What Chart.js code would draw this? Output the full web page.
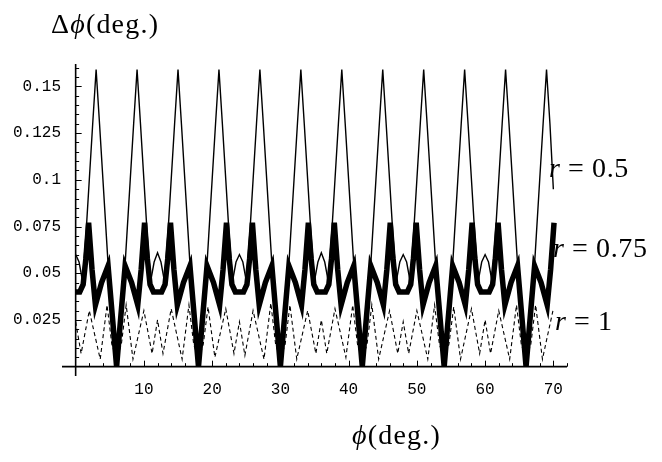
<!DOCTYPE html>
<html>
<head>
<meta charset="utf-8">
<script src="https://cdn.jsdelivr.net/npm/chart.js@4.4.1/dist/chart.umd.min.js"></script>
<style>
html,body{margin:0;padding:0;background:#fff;}
#wrap{width:662px;height:462px;position:relative;}
</style>
</head>
<body>
<div id="wrap"><canvas id="c" width="662" height="462"></canvas></div>
<script>
// ---- data ----
const xTicks = [10, 20, 30, 40, 50, 60, 70];
const yTicks = [0.025, 0.05, 0.075, 0.1, 0.125, 0.15];
const seriesLabels = ["0.5", "0.75", "1"];

const r05X = [0,0.5,1,1.5,2,2.5,3,3.5,4,4.5,5,5.5,6,6.5,7,7.5,8,8.5,9,9.5,10,10.5,11,11.5,
12,12.5,13,13.5,14,14.5,15,15.5,16,16.5,17,17.5,18,18.5,19,19.5,20,20.5,21,21.5,22,22.5,23,23.5,
24,24.5,25,25.5,26,26.5,27,27.5,28,28.5,29,29.5,30,30.5,31,31.5,32,32.5,33,33.5,34,34.5,35,35.5,
36,36.5,37,37.5,38,38.5,39,39.5,40,40.5,41,41.5,42,42.5,43,43.5,44,44.5,45,45.5,46,46.5,47,47.5,
48,48.5,49,49.5,50,50.5,51,51.5,52,52.5,53,53.5,54,54.5,55,55.5,56,56.5,57,57.5,58,58.5,59,59.5,
60,60.5,61,61.5,62,62.5,63,63.5,64,64.5,65,65.5,66,66.5,67,67.5,68,68.5,69,69.5,70];
const r05Y = [0.060,0.056,0.046,0.070,0.100,0.130,0.159,0.130,0.100,0.070,0.040,0.016,0.003,0.016,0.040,0.070,0.100,0.130,0.159,0.130,0.100,0.070,0.046,0.056,
0.061,0.056,0.046,0.070,0.100,0.130,0.159,0.130,0.100,0.070,0.040,0.016,0.003,0.016,0.040,0.070,0.100,0.130,0.159,0.130,0.100,0.070,0.046,0.056,
0.060,0.056,0.046,0.070,0.100,0.130,0.159,0.130,0.100,0.070,0.040,0.016,0.003,0.016,0.040,0.070,0.100,0.130,0.159,0.130,0.100,0.070,0.046,0.056,
0.061,0.056,0.046,0.070,0.100,0.130,0.159,0.130,0.100,0.070,0.040,0.016,0.003,0.016,0.040,0.070,0.100,0.130,0.159,0.130,0.100,0.070,0.046,0.056,
0.060,0.056,0.046,0.070,0.100,0.130,0.159,0.130,0.100,0.070,0.040,0.016,0.003,0.016,0.040,0.070,0.100,0.130,0.159,0.130,0.100,0.070,0.046,0.056,
0.060,0.056,0.046,0.070,0.100,0.130,0.159,0.130,0.100,0.070,0.040,0.016,0.003,0.016,0.040,0.070,0.100,0.130,0.159,0.130,0.095];

const r075X = [0,0.6,1.1,1.5,1.9,2.4,2.9,3.8,4.75,5.4,6,6.6,7.25,8.2,9.1,9.6,10.1,10.5,10.9,11.4,
12,12.6,13.1,13.5,13.9,14.4,14.9,15.8,16.75,17.4,18,18.6,19.25,20.2,21.1,21.6,22.1,22.5,22.9,23.4,
24,24.6,25.1,25.5,25.9,26.4,26.9,27.8,28.75,29.4,30,30.6,31.25,32.2,33.1,33.6,34.1,34.5,34.9,35.4,
36,36.6,37.1,37.5,37.9,38.4,38.9,39.8,40.75,41.4,42,42.6,43.25,44.2,45.1,45.6,46.1,46.5,46.9,47.4,
48,48.6,49.1,49.5,49.9,50.4,50.9,51.8,52.75,53.4,54,54.6,55.25,56.2,57.1,57.6,58.1,58.5,58.9,59.4,
60,60.6,61.1,61.5,61.9,62.4,62.9,63.8,64.75,65.4,66,66.6,67.25,68.2,69.1,69.6,70.1];
const r075Y = [0.040,0.040,0.044,0.058,0.077,0.052,0.033,0.045,0.054,0.026,0.000,0.026,0.054,0.045,0.033,0.052,0.077,0.058,0.044,0.040,
0.040,0.040,0.044,0.058,0.077,0.052,0.033,0.045,0.054,0.026,0.000,0.026,0.054,0.045,0.033,0.052,0.077,0.058,0.044,0.040,
0.040,0.040,0.044,0.058,0.077,0.052,0.033,0.045,0.054,0.026,0.000,0.026,0.054,0.045,0.033,0.052,0.077,0.058,0.044,0.040,
0.040,0.040,0.044,0.058,0.077,0.052,0.033,0.045,0.054,0.026,0.000,0.026,0.054,0.045,0.033,0.052,0.077,0.058,0.044,0.040,
0.040,0.040,0.044,0.058,0.077,0.052,0.033,0.045,0.054,0.026,0.000,0.026,0.054,0.045,0.033,0.052,0.077,0.058,0.044,0.040,
0.040,0.040,0.044,0.058,0.077,0.052,0.033,0.045,0.054,0.026,0.000,0.026,0.054,0.045,0.033,0.052,0.077];

const r1X = [0,0.8,2,3.6,4.6,5.3,6,6.7,7.4,8.4,10,11.2,
12,12.8,14,15.6,16.6,17.3,18,18.7,19.4,20.4,22,23.2,
24,24.8,26,27.6,28.6,29.3,30,30.7,31.4,32.4,34,35.2,
36,36.8,38,39.6,40.6,41.3,42,42.7,43.4,44.4,46,47.2,
48,48.8,50,51.6,52.6,53.3,54,54.7,55.4,56.4,58,59.2,
60,60.8,62,63.6,64.6,65.3,66,66.7,67.4,68.4,70];
const r1Y = [0.024,0.007,0.030,0.004,0.033,0.012,0.004,0.012,0.033,0.004,0.030,0.007,
0.025,0.007,0.031,0.004,0.033,0.012,0.004,0.012,0.032,0.005,0.031,0.007,
0.024,0.006,0.030,0.004,0.034,0.012,0.004,0.012,0.033,0.004,0.030,0.007,
0.025,0.007,0.031,0.005,0.033,0.012,0.004,0.012,0.033,0.004,0.030,0.007,
0.024,0.007,0.030,0.004,0.033,0.012,0.004,0.012,0.032,0.004,0.031,0.007,
0.025,0.007,0.030,0.004,0.033,0.012,0.004,0.012,0.033,0.004,0.031];

function pts(xs, ys) { return xs.map((x, i) => ({ x: x, y: ys[i] })); }

const SERIF = '"Liberation Serif", "DejaVu Serif", serif';
const MONO = '"Liberation Mono", "DejaVu Sans Mono", monospace';

const axesPlugin = {
  id: 'mathAxes',
  afterDatasetsDraw(chart) {
    const ctx = chart.ctx, xs = chart.scales.x, ys = chart.scales.y, ca = chart.chartArea;
    const x0 = xs.getPixelForValue(0), y0 = ys.getPixelForValue(0);
    ctx.save();
    ctx.strokeStyle = '#000';
    ctx.lineWidth = 1.6;
    ctx.beginPath();
    ctx.moveTo(ca.left, y0); ctx.lineTo(ca.right, y0);
    ctx.moveTo(x0, ca.top); ctx.lineTo(x0, ca.bottom);
    ctx.stroke();
    ctx.lineWidth = 1;
    ctx.beginPath();
    for (let v = 0.005; v <= 0.1601; v += 0.005) {
      const major = Math.abs(v / 0.025 - Math.round(v / 0.025)) < 1e-6;
      const py = Math.round(ys.getPixelForValue(v)) + 0.5;
      ctx.moveTo(x0, py); ctx.lineTo(x0 + (major ? 6 : 3.5), py);
    }
    for (let v = 2; v <= 72; v += 2) {
      const major = v % 10 === 0;
      const px = Math.round(xs.getPixelForValue(v)) + 0.5;
      ctx.moveTo(px, y0); ctx.lineTo(px, y0 - (major ? 6 : 3.5));
    }
    ctx.stroke();
    ctx.restore();
  },
  afterDraw(chart) {
    const ctx = chart.ctx;
    ctx.save();
    ctx.fillStyle = '#000';
    ctx.textBaseline = 'alphabetic';
    ctx.textAlign = 'left';
    function run(parts, x, y, sp) {
      let cx = x;
      for (const p of parts) {
        ctx.font = p[1];
        for (const ch of p[0]) {
          ctx.fillText(ch, cx, y);
          cx += ctx.measureText(ch).width + sp;
        }
      }
    }
    run([['\u0394', '28px ' + SERIF], ['\u03D5', 'italic 28px ' + SERIF], ['(deg.)', '28px ' + SERIF]], 51, 33, 1.2);
    run([['\u03D5', 'italic 28px ' + SERIF], ['(deg.)', '28px ' + SERIF]], 352, 444, 1.2);
    const lab = [[549, 177], [553, 257], [555, 330]];
    seriesLabels.forEach((s, i) => {
      run([['r', 'italic 28px ' + SERIF], [' = ' + s, '28px ' + SERIF]], lab[i][0], lab[i][1], 0.6);
    });
    ctx.restore();
  }
};

new Chart(document.getElementById('c'), {
  type: 'scatter',
  data: {
    datasets: [
      { label: 'r = 0.75', data: pts(r075X, r075Y), showLine: true, borderColor: '#000', borderWidth: 5.5,
        pointRadius: 0, tension: 0, order: 0, borderJoinStyle: 'miter' },
      { label: 'r = 0.5', data: pts(r05X, r05Y), showLine: true, borderColor: '#000', borderWidth: 1.4,
        pointRadius: 0, tension: 0, order: 1 },
      { label: 'r = 1', data: pts(r1X, r1Y), showLine: true, borderColor: '#000', borderWidth: 1.1,
        borderDash: [4, 3], pointRadius: 0, tension: 0, order: 2 }
    ]
  },
  options: {
    responsive: false,
    animation: false,
    devicePixelRatio: 1,
    layout: { padding: { top: 64, right: 95, left: 0, bottom: 0 } },
    plugins: { legend: { display: false }, tooltip: { enabled: false } },
    scales: {
      x: {
        type: 'linear', min: -2, max: 72,
        grid: { display: false, drawTicks: false }, border: { display: false },
        afterBuildTicks: s => { s.ticks = xTicks.map(v => ({ value: v })); },
        afterFit: s => { s.height = 86; },
        ticks: { color: '#000', font: { family: MONO, size: 16 }, padding: 4, maxRotation: 0,
          callback: v => String(v) }
      },
      y: {
        type: 'linear', min: -0.005, max: 0.162,
        grid: { display: false, drawTicks: false }, border: { display: false },
        afterBuildTicks: s => { s.ticks = yTicks.map(v => ({ value: v })); },
        afterFit: s => { s.width = 62; },
        ticks: { color: '#000', font: { family: MONO, size: 16 }, padding: 1,
          callback: v => String(v) }
      }
    }
  },
  plugins: [axesPlugin]
});
</script>
</body>
</html>
